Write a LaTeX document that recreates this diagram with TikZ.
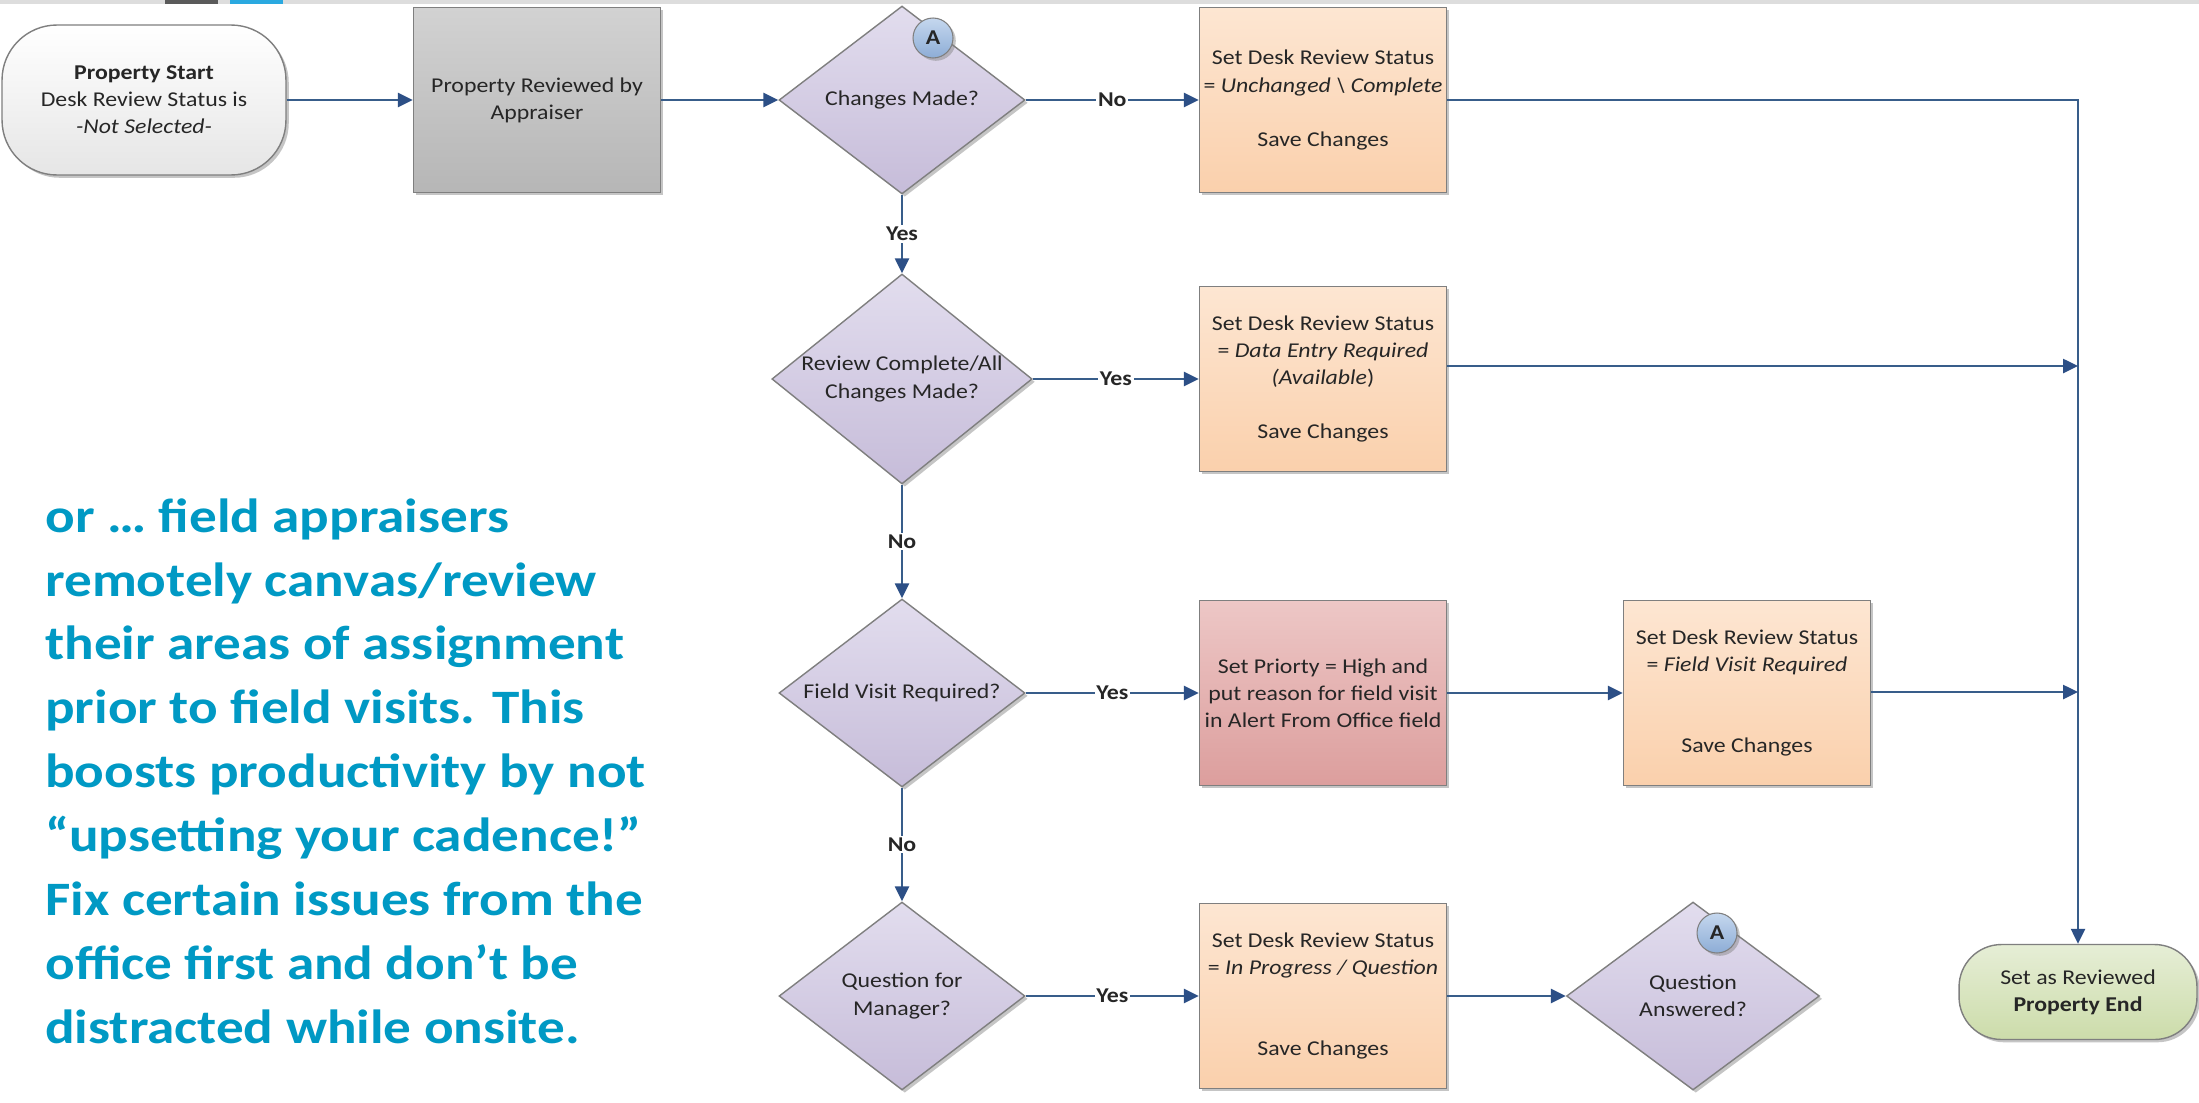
\documentclass[tikz,border=0pt]{standalone}
\usepackage{fontspec}
\setmainfont{Carlito}[FakeStretch=1.13]
\newfontfamily\notefont{Carlito}[FakeStretch=1.15]
\usepackage{tikz}
\usetikzlibrary{shapes.geometric, arrows.meta, positioning, calc, shadows}
\definecolor{flowblue}{HTML}{385D8A}
\definecolor{tipblue}{HTML}{2C4F86}
\definecolor{edgegray}{HTML}{7F7F7F}
\definecolor{textdark}{HTML}{262626}
\definecolor{noteteal}{HTML}{0099C4}
\definecolor{peachtop}{HTML}{FDE6D2}
\definecolor{peachbot}{HTML}{FAD0AC}
\definecolor{lilactop}{HTML}{E2DDEE}
\definecolor{lilacbot}{HTML}{C6BCD9}
\definecolor{rosetop}{HTML}{EDC7C6}
\definecolor{rosebot}{HTML}{DC9E9D}
\definecolor{sagetop}{HTML}{E6EED6}
\definecolor{sagebot}{HTML}{CCDCAA}
\definecolor{steeltop}{HTML}{D2D2D2}
\definecolor{steelbot}{HTML}{B6B6B6}
\definecolor{skytop}{HTML}{C5D7EE}
\definecolor{skybot}{HTML}{8DADD6}
\definecolor{stripgray}{HTML}{DDDDDD}
\definecolor{tabdark}{HTML}{5A5A5A}
\definecolor{tabblue}{HTML}{2AA9E0}

\begin{document}
\begin{tikzpicture}[x=0.02cm, y=-0.02cm,
    font=\fontsize{12}{15.4}\selectfont\color{textdark},
    boxshadow/.style={drop shadow={shadow xshift=1.6pt, shadow yshift=-1.6pt, opacity=0.45}},
    procbox/.style={rectangle, draw=edgegray, line width=0.8pt, minimum width=4.94cm, minimum height=3.7cm, align=center, inner sep=2pt, boxshadow},
    statusbox/.style={procbox, top color=peachtop, bottom color=peachbot},
    alertbox/.style={procbox, top color=rosetop, bottom color=rosebot},
    apprbox/.style={procbox, top color=steeltop, bottom color=steelbot},
    decision/.style={diamond, aspect=1.3, draw=edgegray, line width=0.8pt, minimum width=4.92cm, minimum height=3.76cm, inner sep=0pt, align=center, top color=lilactop, bottom color=lilacbot, boxshadow},
    terminal/.style={rectangle, draw=edgegray, line width=0.8pt, align=center, boxshadow},
    offpage/.style={circle, draw=edgegray, line width=0.6pt, minimum size=0.8cm, inner sep=0pt, top color=skytop, bottom color=skybot, font=\fontsize{12}{14}\selectfont\bfseries\color{textdark}, boxshadow},
    flow/.style={draw=flowblue, line width=1.4pt, -{Triangle[length=0.3cm, width=0.28cm, color=tipblue]}},
    branch/.style={fill=white, inner sep=1pt, font=\fontsize{12}{14}\selectfont\bfseries\color{textdark}}
]
    \useasboundingbox (0,0) rectangle (2199,1102);
    \fill[white] (0,0) rectangle (2199,1102);

    % Window strip
    \fill[stripgray] (0,0) rectangle (2199,4);
    \fill[tabdark] (165,0) rectangle (218,4);
    \fill[tabblue] (230,0) rectangle (283,4);

    % Start and appraisal
    \node[terminal, rounded corners=1.1cm, minimum width=5.68cm, minimum height=3cm, top color=white, bottom color=black!10] (start) at (144,100)
        {\textbf{Property Start}\\Desk Review Status is\\\textit{-Not Selected-}};
    \node[apprbox] (appraise) at (537,100) {Property Reviewed by\\Appraiser};

    % Decisions
    \node[decision] (changes) at (902,100) {Changes Made?};
    \node[decision, minimum width=5.08cm, minimum height=4.2cm] (review) at (902,379) {Review Complete/All\\Changes Made?};
    \node[decision] (fieldvisit) at (902,693) {Field Visit Required?};
    \node[decision] (manager) at (902,996) {Question for\\Manager?};
    \node[decision, minimum width=5.06cm] (answered) at (1693,996) {Question\\Answered?};

    % Status boxes
    \node[statusbox] (status1) at (1323,100) {Set Desk Review Status\\= \textit{Unchanged \textbackslash{} Complete}\\[0.54cm]Save Changes};
    \node[statusbox] (status2) at (1323,379) {Set Desk Review Status\\= \textit{Data Entry Required}\\\textit{(Available})\\[0.54cm]Save Changes};
    \node[alertbox] (alert) at (1323,693) {Set Priorty = High and\\put reason for field visit\\in Alert From Office field};
    \node[statusbox] (status3) at (1747,693) {Set Desk Review Status\\= \textit{Field Visit Required}\\[1.08cm]Save Changes};
    \node[statusbox] (status4) at (1323,996) {Set Desk Review Status\\= \textit{In Progress / Question}\\[1.08cm]Save Changes};

    % End
    \node[terminal, rounded corners=0.85cm, minimum width=4.76cm, minimum height=1.9cm, top color=sagetop, bottom color=sagebot] (finish) at (2078,992)
        {Set as Reviewed\\\textbf{Property End}};

    % Off-page connectors
    \node[offpage] (backA) at (933,38) {A};
    \node[offpage] (loopA) at (1717,933) {A};

    % Main flow
    \draw[flow] (start) -- (appraise);
    \draw[flow] (appraise) -- (changes);
    \draw[flow] (changes) -- node[branch] {No} (status1);
    \draw[flow] (changes) -- node[branch] {Yes} (review);
    \draw[flow] (review) -- node[branch] {Yes} (status2);
    \draw[flow] (review) -- node[branch] {No} (fieldvisit);
    \draw[flow] (fieldvisit) -- node[branch] {Yes} (alert);
    \draw[flow] (alert) -- (status3);
    \draw[flow] (fieldvisit) -- node[branch] {No} (manager);
    \draw[flow] (manager) -- node[branch] {Yes} (status4);
    \draw[flow] (status4) -- (answered);

    % Collector line to the end
    \coordinate (join2) at (2078,366);
    \coordinate (join3) at (2078,692);
    \draw[flow] (status1) -| (finish);
    \draw[flow] (status2.east |- join2) -- (join2);
    \draw[flow] (status3.east |- join3) -- (join3);

    % Side note
    \node[anchor=north west, align=left, inner sep=0pt, font=\notefont\fontsize{27.3}{36.4}\selectfont\bfseries\color{noteteal}] (note) at (45,498)
        {or … field appraisers\\remotely canvas/review\\their areas of assignment\\prior to field visits. This\\boosts productivity by not\\“upsetting your cadence!”\\Fix certain issues from the\\office first and don’t be\\distracted while onsite.};
\end{tikzpicture}
\end{document}
